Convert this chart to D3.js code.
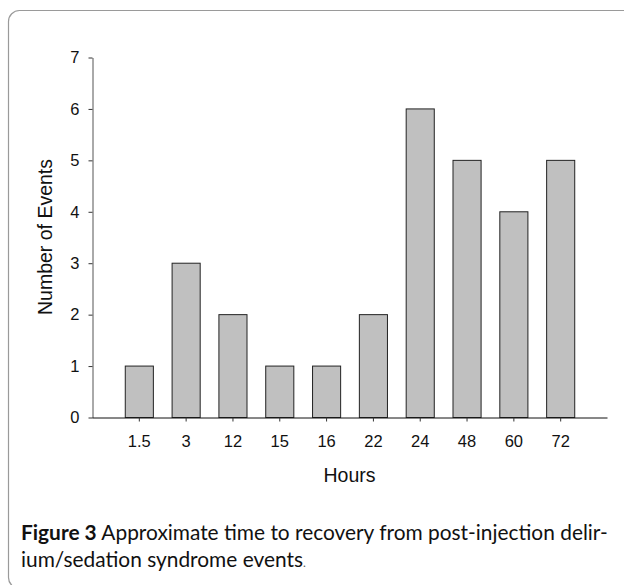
<!DOCTYPE html>
<html>
<head>
<meta charset="utf-8">
<script src="https://cdn.jsdelivr.net/npm/d3@7"></script>
<style>
  body { margin: 0; background: #fff; }
  svg { display: block; }
</style>
</head>
<body>
<svg id="chart" width="624" height="585"></svg>
<script>
// Data
const hours = ["1.5", "3", "12", "15", "16", "22", "24", "48", "60", "72"];
const events = [1, 3, 2, 1, 1, 2, 6, 5, 4, 5];
const yTicks = [0, 1, 2, 3, 4, 5, 6, 7];

const svg = d3.select("#chart");

// Rounded frame around the figure
svg.append("rect")
  .attr("x", 8.5)
  .attr("y", 10.5)
  .attr("width", 660)
  .attr("height", 578)
  .attr("rx", 11)
  .attr("fill", "none")
  .attr("stroke", "#9a9a9a")
  .attr("stroke-width", 1.2);

// Plot area
const plotLeft = 92, plotRight = 607, plotTop = 57, plotBottom = 417;

const x = d3.scalePoint()
  .domain(hours)
  .range([plotLeft, plotRight])
  .padding(1);

const y = d3.scaleLinear()
  .domain([0, 7])
  .range([plotBottom, plotTop]);

const barW = x.step() * 0.6;

// Bars
svg.append("g")
  .selectAll("rect")
  .data(hours)
  .join("rect")
  .attr("x", (d) => x(d) - barW / 2 + 0.5)
  .attr("y", (d, i) => y(events[i]) + 0.5)
  .attr("width", barW)
  .attr("height", (d, i) => y(0) - y(events[i]))
  .attr("fill", "#c0c0c0")
  .attr("stroke", "#222")
  .attr("stroke-width", 1);

// Y axis
const yAxis = svg.append("g")
  .attr("transform", `translate(${plotLeft + 0.5},0.5)`)
  .call(d3.axisLeft(y).tickValues(yTicks).tickFormat(d3.format("d"))
    .tickSize(4).tickSizeOuter(0).tickPadding(9));
yAxis.select(".domain").attr("stroke", "#555");
yAxis.selectAll(".tick line").attr("stroke", "#333");
yAxis.selectAll("text")
  .attr("font-family", "Liberation Sans, Arial, sans-serif")
  .attr("font-size", 16.5)
  .attr("fill", "#111");

// X axis
const xAxis = svg.append("g")
  .attr("transform", `translate(0,${plotBottom + 0.5})`)
  .call(d3.axisBottom(x).tickSize(4).tickSizeOuter(0).tickPadding(14));
xAxis.select(".domain").attr("stroke", "#111");
xAxis.selectAll(".tick line").attr("stroke", "#333");
xAxis.selectAll("text")
  .attr("font-family", "Liberation Sans, Arial, sans-serif")
  .attr("font-size", 16.5)
  .attr("fill", "#111");

// Axis titles
svg.append("text")
  .attr("x", (plotLeft + plotRight) / 2)
  .attr("y", 482)
  .attr("text-anchor", "middle")
  .attr("font-family", "Liberation Sans, Arial, sans-serif")
  .attr("font-size", 19.5)
  .attr("fill", "#111")
  .text("Hours");

svg.append("text")
  .attr("transform", `translate(52,${(plotTop + plotBottom) / 2}) rotate(-90)`)
  .attr("text-anchor", "middle")
  .attr("font-family", "Liberation Sans, Arial, sans-serif")
  .attr("font-size", 19.5)
  .attr("fill", "#111")
  .text("Number of Events");

// Caption
const capFont = "Lato, Open Sans, sans-serif";
const line1 = svg.append("text")
  .attr("x", 21)
  .attr("y", 540)
  .attr("font-family", capFont)
  .attr("font-size", 18)
  .attr("fill", "#111");
line1.append("tspan").attr("font-weight", "bold").text("Figure 3");
line1.append("tspan").text(" Approximate time to recovery from post-injection delir-");

const line2 = svg.append("text")
  .attr("x", 21)
  .attr("y", 567)
  .attr("font-family", capFont)
  .attr("font-size", 18)
  .attr("fill", "#111");
line2.append("tspan").text("ium/sedation syndrome events");
line2.append("tspan").attr("font-size", 12).attr("fill", "#555").text(".");

// fit caption width to the figure
const w1 = line1.node().getComputedTextLength();
const fs = 18 * 587 / w1;
line1.attr("font-size", fs);
line2.attr("font-size", fs);
</script>
</body>
</html>
